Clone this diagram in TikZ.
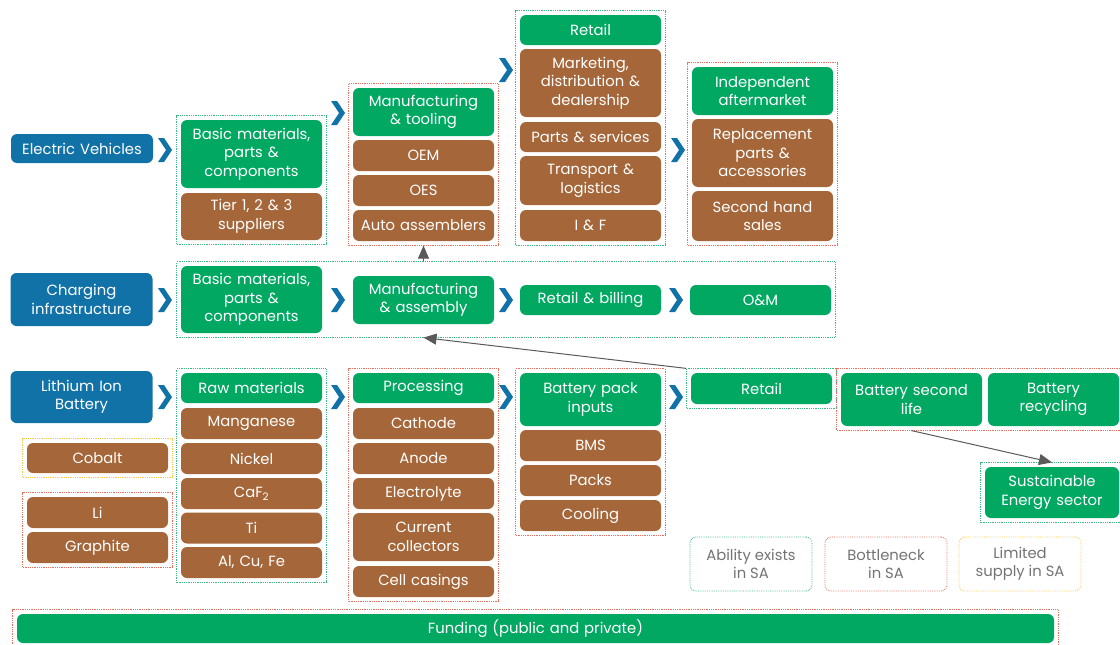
\documentclass[tikz,border=0pt]{standalone}
\usepackage{fontspec}
\setmainfont{Poppins}
\usetikzlibrary{fit,arrows.meta}

\definecolor{vcgreen}{RGB}{0,168,98}
\definecolor{vcbrown}{RGB}{165,102,58}
\definecolor{vcblue}{RGB}{17,114,168}
\definecolor{dotgreen}{RGB}{60,184,130}
\definecolor{dotred}{RGB}{232,112,95}
\definecolor{dotyellow}{RGB}{248,200,80}
\definecolor{arrgray}{RGB}{90,90,90}

\begin{document}
\begin{tikzpicture}[x=1pt,y=-1pt]
        % Define styles for boxes, groups and arrows
        \tikzstyle{box}=[rounded corners=6pt, minimum width=141pt, text width=139pt, align=center, inner sep=0pt, text=white, font=\fontsize{14.8}{18.5}\selectfont]
        \tikzstyle{gbox}=[box, fill=vcgreen]
        \tikzstyle{bbox}=[box, fill=vcbrown]
        \tikzstyle{sector}=[box, fill=vcblue, minimum width=142pt]
        \tikzstyle{grp}=[draw, densely dotted, line width=0.8pt, inner sep=4pt]
        \tikzstyle{grpgreen}=[grp, dotgreen]
        \tikzstyle{grpred}=[grp, dotred]
        \tikzstyle{grpyellow}=[grp, dotyellow]
        \tikzstyle{key}=[draw, densely dotted, line width=0.8pt, rounded corners=6pt, minimum width=122pt, minimum height=54pt, align=center, text=black!55, font=\fontsize{14.8}{18.5}\selectfont]
        \tikzstyle{arr}=[draw=arrgray, line width=1pt, -{Triangle[length=13pt,width=11pt]}, arrgray]

        \useasboundingbox (0,0) rectangle (1120,645);

        % Electric vehicles
        \node[sector, minimum height=29pt] (ev) at (82,148.5) {Electric Vehicles};
        \node[gbox, minimum height=68pt] (evbasic) at (251.5,154) {Basic materials,\\parts \&\\components};
        \node[bbox, minimum height=47pt] (tier) at (251.5,216.5) {Tier 1, 2 \& 3\\suppliers};
        \node[gbox, minimum height=48pt] (mfgtool) at (423.5,112) {Manufacturing\\\& tooling};
        \node[bbox, minimum height=31pt] (oem) at (423.5,155.5) {OEM};
        \node[bbox, minimum height=31pt] (oes) at (423.5,190.5) {OES};
        \node[bbox, minimum height=31pt] (auto) at (423.5,225.5) {Auto assemblers};
        \node[gbox, minimum height=30pt] (evretail) at (590.5,30) {Retail};
        \node[bbox, minimum height=68pt] (marketing) at (590.5,83) {Marketing,\\distribution \&\\dealership};
        \node[bbox, minimum height=30pt] (parts) at (590.5,137) {Parts \& services};
        \node[bbox, minimum height=49pt] (transport) at (590.5,180.5) {Transport \&\\logistics};
        \node[bbox, minimum height=31pt] (iandf) at (590.5,225.5) {I \& F};
        \node[gbox, minimum height=48pt] (indep) at (762.5,91) {Independent\\aftermarket};
        \node[bbox, minimum height=68pt] (replace) at (762.5,153) {Replacement\\parts \&\\accessories};
        \node[bbox, minimum height=50pt] (secondhand) at (762.5,216) {Second hand\\sales};

        \node[grpgreen, fit=(evbasic)(tier)] (gEvBasic) {};
        \node[grpred, fit=(mfgtool)(auto)] (gEvMfg) {};
        \node[grpgreen, fit=(evretail)(iandf)] (gEvRetail) {};
        \node[grpred, fit=(indep)(secondhand)] (gEvAfter) {};

        % Charging infrastructure
        \node[sector, minimum height=53pt] (ci) at (81.5,299.5) {Charging\\infrastructure};
        \node[gbox, minimum height=67pt] (cibasic) at (251.5,299.5) {Basic materials,\\parts \&\\components};
        \node[gbox, minimum height=48pt] (mfgasm) at (423.5,300) {Manufacturing\\\& assembly};
        \node[gbox, minimum height=30pt] (retailbill) at (590.5,300) {Retail \& billing};
        \node[gbox, minimum height=30pt] (om) at (760.5,300) {O\&M};

        \node[grpgreen, fit=(cibasic)(om)] (gCharge) {};

        % Lithium ion battery
        \node[sector, minimum height=52pt] (lib) at (81.5,397) {Lithium Ion\\Battery};
        \node[gbox, minimum height=30pt] (raw) at (251.5,388) {Raw materials};
        \node[bbox, minimum height=31pt] (mangan) at (251.5,423.5) {Manganese};
        \node[bbox, minimum height=31pt] (nickel) at (251.5,458.5) {Nickel};
        \node[bbox, minimum height=31pt] (caf) at (251.5,493.5) {CaF\textsubscript{2}};
        \node[bbox, minimum height=31pt] (ti) at (251.5,528) {Ti};
        \node[bbox, minimum height=31pt] (alcufe) at (251.5,562.5) {Al, Cu, Fe};
        \node[bbox, minimum height=30pt] (cobalt) at (97.5,458) {Cobalt};
        \node[bbox, minimum height=31pt] (li) at (97.5,512.5) {Li};
        \node[bbox, minimum height=31pt] (graphite) at (97.5,547.5) {Graphite};
        \node[gbox, minimum height=30pt] (proc) at (423.5,388) {Processing};
        \node[bbox, minimum height=31pt] (cathode) at (423.5,423.5) {Cathode};
        \node[bbox, minimum height=31pt] (anode) at (423.5,458.5) {Anode};
        \node[bbox, minimum height=31pt] (electrolyte) at (423.5,493.5) {Electrolyte};
        \node[bbox, minimum height=48pt] (collect) at (423.5,537) {Current\\collectors};
        \node[bbox, minimum height=31pt] (casings) at (423.5,581.5) {Cell casings};
        \node[gbox, minimum height=53pt] (packin) at (590.5,399.5) {Battery pack\\inputs};
        \node[bbox, minimum height=31pt] (bms) at (590.5,445.5) {BMS};
        \node[bbox, minimum height=31pt] (packs) at (590.5,480.5) {Packs};
        \node[bbox, minimum height=31pt] (cooling) at (590.5,515.5) {Cooling};
        \node[gbox, minimum height=31pt] (bretail) at (761.5,388.5) {Retail};
        \node[gbox, minimum height=53pt] (secondlife) at (911.5,399.5) {Battery second\\life};
        \node[gbox, minimum height=53pt, minimum width=131pt, text width=129pt] (recycle) at (1053.5,399.5) {Battery\\recycling};
        \node[gbox, minimum height=51pt, minimum width=134pt, text width=133pt] (sustain) at (1052,492.5) {Sustainable\\Energy sector};

        \node[grpgreen, fit=(raw)(alcufe)] (gRaw) {};
        \node[grpyellow, fit=(cobalt)] (gCobalt) {};
        \node[grpred, fit=(li)(graphite)] (gLi) {};
        \node[grpred, fit=(proc)(casings)] (gProc) {};
        \node[grpred, fit=(packin)(cooling)] (gPack) {};
        \node[grpgreen, fit=(bretail)] (gBRetail) {};
        \node[grpred, fit=(secondlife)(recycle)] (gSecond) {};
        \node[grpgreen, fit=(sustain)] (gSustain) {};

        % Chevrons between the stages
        \foreach \cx/\cy in {165/150, 165/300, 165/397, 338/113, 338/300, 338/397,
                             506/70, 506/300, 506/397, 678/150, 676/300, 676/397}
          \fill[vcblue] (\cx-7,\cy-12) -- (\cx-1,\cy-12) -- (\cx+7,\cy) -- (\cx-1,\cy+12)
                        -- (\cx-7,\cy+12) -- (\cx+1,\cy) -- cycle;

        % Arrows
        \draw[arr] (auto.south |- gCharge.north) -- (auto.south |- gEvMfg.south);
        \draw[arr] (gBRetail.north west) -- (mfgasm.south |- gCharge.south);
        \draw[arr] (secondlife.south |- gSecond.south) -- (gSustain.north);

        % Key
        \node[key, draw=dotgreen] (kAbility) at (751,564) {Ability exists\\in SA};
        \node[key, draw=dotred] (kBottle) at (886,564) {Bottleneck\\in SA};
        \node[key, draw=dotyellow] (kLimited) at (1020,564) {Limited\\supply in SA};

        % Funding
        \node[gbox, minimum width=1037pt, text width=1030pt, minimum height=29pt] (fund) at (535.5,628.5) {Funding (public and private)};
        \node[grpred, fit=(fund)] (gFund) {};

      \end{tikzpicture}
\end{document}
